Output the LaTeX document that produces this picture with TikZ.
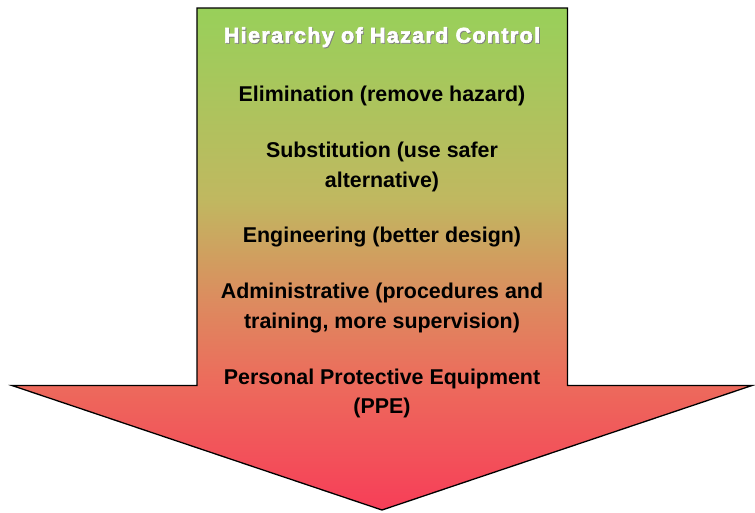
\documentclass[tikz,border=0pt]{standalone}
\usepackage{fontspec}
\setmainfont{Liberation Sans}
\newfontfamily\hzttlfont[FakeBold=3,LetterSpace=6.5]{Liberation Sans Bold}
\usetikzlibrary{positioning}
\definecolor{hzgreen}{RGB}{152,208,90}
\definecolor{hzkhaki}{RGB}{192,184,96}
\definecolor{hzsalmon}{RGB}{220,140,95}
\definecolor{hzcoral}{RGB}{236,108,92}
\definecolor{hzred}{RGB}{247,62,88}
\pgfdeclareverticalshading{hzfade}{100bp}{%
  color(0bp)=(hzred); color(25bp)=(hzred); color(38bp)=(hzcoral);
  color(46bp)=(hzsalmon); color(56bp)=(hzkhaki); color(75bp)=(hzgreen);
  color(100bp)=(hzgreen)}
\newcommand\hzshadow[1]{\rlap{\kern0.9pt\raisebox{-0.9pt}{\textcolor{black!50}{#1}}}#1}
\tikzset{
  hzarrow/.style={draw=black,line width=1.3pt,shading=hzfade},
  hztitle/.style={font=\fontsize{21.4}{29.5}\hzttlfont,text=white,anchor=base,
                  inner sep=0pt},
  level/.style={font=\fontsize{21.4}{29.5}\selectfont\bfseries,text=black,
                align=center,inner sep=0pt},
}
\begin{document}
\begin{tikzpicture}[x=1pt,y=-1pt,node distance=35.4pt]
  \useasboundingbox (0,0) rectangle (755,512);
  % the big downward arrow
  \draw[hzarrow] (197,8) -- (567.5,8) -- (567.5,385.5) -- (752,385.5)
    -- (382,510) -- (12,385.5) -- (197,385.5) -- cycle;

  \node[hztitle] (title) at (382,42.7) {\hzshadow{Hierarchy of Hazard Control}};
  \node[level,below=38pt of title] (elim) {Elimination (remove hazard)};
  \node[level,below=of elim] (subst) {Substitution (use safer\\alternative)};
  \node[level,below=of subst] (eng) {Engineering (better design)};
  \node[level,below=of eng] (admin)
    {Administrative (procedures and\\training, more supervision)};
  \node[level,below=of admin] (ppe) {Personal Protective Equipment\\(PPE)};
\end{tikzpicture}
\end{document}
